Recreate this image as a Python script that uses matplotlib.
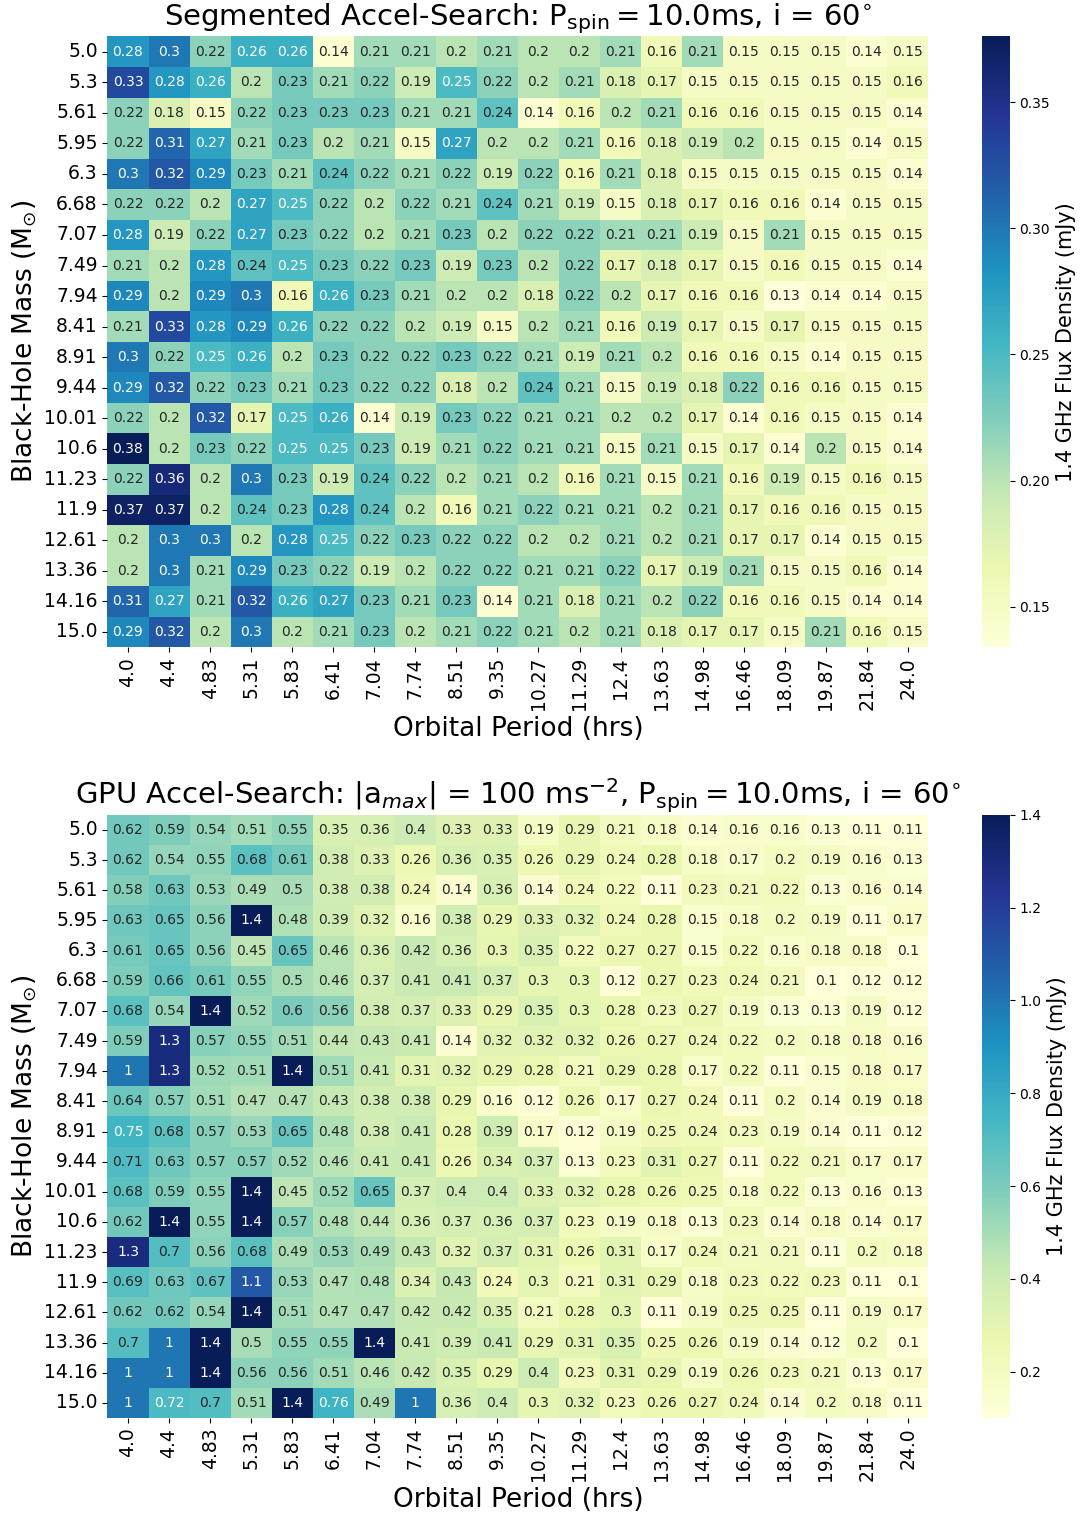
import matplotlib
matplotlib.use("Agg")
import matplotlib.pyplot as plt
import numpy as np
import seaborn as sns

# Grid axes
masses = [5.0, 5.3, 5.61, 5.95, 6.3, 6.68, 7.07, 7.49, 7.94, 8.41,
          8.91, 9.44, 10.01, 10.6, 11.23, 11.9, 12.61, 13.36, 14.16, 15.0]
periods = [4.0, 4.4, 4.83, 5.31, 5.83, 6.41, 7.04, 7.74, 8.51, 9.35,
           10.27, 11.29, 12.4, 13.63, 14.98, 16.46, 18.09, 19.87, 21.84, 24.0]

# Minimum detectable 1.4 GHz flux density (mJy), segmented acceleration search
segmented_flux = [
    [0.28, 0.3, 0.22, 0.26, 0.26, 0.14, 0.21, 0.21, 0.2, 0.21, 0.2, 0.2, 0.21, 0.16, 0.21, 0.15, 0.15, 0.15, 0.14, 0.15],
    [0.33, 0.28, 0.26, 0.2, 0.23, 0.21, 0.22, 0.19, 0.25, 0.22, 0.2, 0.21, 0.18, 0.17, 0.15, 0.15, 0.15, 0.15, 0.15, 0.16],
    [0.22, 0.18, 0.15, 0.22, 0.23, 0.23, 0.23, 0.21, 0.21, 0.24, 0.14, 0.16, 0.2, 0.21, 0.16, 0.16, 0.15, 0.15, 0.15, 0.14],
    [0.22, 0.31, 0.27, 0.21, 0.23, 0.2, 0.21, 0.15, 0.27, 0.2, 0.2, 0.21, 0.16, 0.18, 0.19, 0.2, 0.15, 0.15, 0.14, 0.15],
    [0.3, 0.32, 0.29, 0.23, 0.21, 0.24, 0.22, 0.21, 0.22, 0.19, 0.22, 0.16, 0.21, 0.18, 0.15, 0.15, 0.15, 0.15, 0.15, 0.14],
    [0.22, 0.22, 0.2, 0.27, 0.25, 0.22, 0.2, 0.22, 0.21, 0.24, 0.21, 0.19, 0.15, 0.18, 0.17, 0.16, 0.16, 0.14, 0.15, 0.15],
    [0.28, 0.19, 0.22, 0.27, 0.23, 0.22, 0.2, 0.21, 0.23, 0.2, 0.22, 0.22, 0.21, 0.21, 0.19, 0.15, 0.21, 0.15, 0.15, 0.15],
    [0.21, 0.2, 0.28, 0.24, 0.25, 0.23, 0.22, 0.23, 0.19, 0.23, 0.2, 0.22, 0.17, 0.18, 0.17, 0.15, 0.16, 0.15, 0.15, 0.14],
    [0.29, 0.2, 0.29, 0.3, 0.16, 0.26, 0.23, 0.21, 0.2, 0.2, 0.18, 0.22, 0.2, 0.17, 0.16, 0.16, 0.13, 0.14, 0.14, 0.15],
    [0.21, 0.33, 0.28, 0.29, 0.26, 0.22, 0.22, 0.2, 0.19, 0.15, 0.2, 0.21, 0.16, 0.19, 0.17, 0.15, 0.17, 0.15, 0.15, 0.15],
    [0.3, 0.22, 0.25, 0.26, 0.2, 0.23, 0.22, 0.22, 0.23, 0.22, 0.21, 0.19, 0.21, 0.2, 0.16, 0.16, 0.15, 0.14, 0.15, 0.15],
    [0.29, 0.32, 0.22, 0.23, 0.21, 0.23, 0.22, 0.22, 0.18, 0.2, 0.24, 0.21, 0.15, 0.19, 0.18, 0.22, 0.16, 0.16, 0.15, 0.15],
    [0.22, 0.2, 0.32, 0.17, 0.25, 0.26, 0.14, 0.19, 0.23, 0.22, 0.21, 0.21, 0.2, 0.2, 0.17, 0.14, 0.16, 0.15, 0.15, 0.14],
    [0.38, 0.2, 0.23, 0.22, 0.25, 0.25, 0.23, 0.19, 0.21, 0.22, 0.21, 0.21, 0.15, 0.21, 0.15, 0.17, 0.14, 0.2, 0.15, 0.14],
    [0.22, 0.36, 0.2, 0.3, 0.23, 0.19, 0.24, 0.22, 0.2, 0.21, 0.2, 0.16, 0.21, 0.15, 0.21, 0.16, 0.19, 0.15, 0.16, 0.15],
    [0.37, 0.37, 0.2, 0.24, 0.23, 0.28, 0.24, 0.2, 0.16, 0.21, 0.22, 0.21, 0.21, 0.2, 0.21, 0.17, 0.16, 0.16, 0.15, 0.15],
    [0.2, 0.3, 0.3, 0.2, 0.28, 0.25, 0.22, 0.23, 0.22, 0.22, 0.2, 0.2, 0.21, 0.2, 0.21, 0.17, 0.17, 0.14, 0.15, 0.15],
    [0.2, 0.3, 0.21, 0.29, 0.23, 0.22, 0.19, 0.2, 0.22, 0.22, 0.21, 0.21, 0.22, 0.17, 0.19, 0.21, 0.15, 0.15, 0.16, 0.14],
    [0.31, 0.27, 0.21, 0.32, 0.26, 0.27, 0.23, 0.21, 0.23, 0.14, 0.21, 0.18, 0.21, 0.2, 0.22, 0.16, 0.16, 0.15, 0.14, 0.14],
    [0.29, 0.32, 0.2, 0.3, 0.2, 0.21, 0.23, 0.2, 0.21, 0.22, 0.21, 0.2, 0.21, 0.18, 0.17, 0.17, 0.15, 0.21, 0.16, 0.15],
]

# Same grid, GPU acceleration search with |a_max| = 100 m/s^2
gpu_flux = [
    [0.62, 0.59, 0.54, 0.51, 0.55, 0.35, 0.36, 0.4, 0.33, 0.33, 0.19, 0.29, 0.21, 0.18, 0.14, 0.16, 0.16, 0.13, 0.11, 0.11],
    [0.62, 0.54, 0.55, 0.68, 0.61, 0.38, 0.33, 0.26, 0.36, 0.35, 0.26, 0.29, 0.24, 0.28, 0.18, 0.17, 0.2, 0.19, 0.16, 0.13],
    [0.58, 0.63, 0.53, 0.49, 0.5, 0.38, 0.38, 0.24, 0.14, 0.36, 0.14, 0.24, 0.22, 0.11, 0.23, 0.21, 0.22, 0.13, 0.16, 0.14],
    [0.63, 0.65, 0.56, 1.4, 0.48, 0.39, 0.32, 0.16, 0.38, 0.29, 0.33, 0.32, 0.24, 0.28, 0.15, 0.18, 0.2, 0.19, 0.11, 0.17],
    [0.61, 0.65, 0.56, 0.45, 0.65, 0.46, 0.36, 0.42, 0.36, 0.3, 0.35, 0.22, 0.27, 0.27, 0.15, 0.22, 0.16, 0.18, 0.18, 0.1],
    [0.59, 0.66, 0.61, 0.55, 0.5, 0.46, 0.37, 0.41, 0.41, 0.37, 0.3, 0.3, 0.12, 0.27, 0.23, 0.24, 0.21, 0.1, 0.12, 0.12],
    [0.68, 0.54, 1.4, 0.52, 0.6, 0.56, 0.38, 0.37, 0.33, 0.29, 0.35, 0.3, 0.28, 0.23, 0.27, 0.19, 0.13, 0.13, 0.19, 0.12],
    [0.59, 1.3, 0.57, 0.55, 0.51, 0.44, 0.43, 0.41, 0.14, 0.32, 0.32, 0.32, 0.26, 0.27, 0.24, 0.22, 0.2, 0.18, 0.18, 0.16],
    [1.0, 1.3, 0.52, 0.51, 1.4, 0.51, 0.41, 0.31, 0.32, 0.29, 0.28, 0.21, 0.29, 0.28, 0.17, 0.22, 0.11, 0.15, 0.18, 0.17],
    [0.64, 0.57, 0.51, 0.47, 0.47, 0.43, 0.38, 0.38, 0.29, 0.16, 0.12, 0.26, 0.17, 0.27, 0.24, 0.11, 0.2, 0.14, 0.19, 0.18],
    [0.75, 0.68, 0.57, 0.53, 0.65, 0.48, 0.38, 0.41, 0.28, 0.39, 0.17, 0.12, 0.19, 0.25, 0.24, 0.23, 0.19, 0.14, 0.11, 0.12],
    [0.71, 0.63, 0.57, 0.57, 0.52, 0.46, 0.41, 0.41, 0.26, 0.34, 0.37, 0.13, 0.23, 0.31, 0.27, 0.11, 0.22, 0.21, 0.17, 0.17],
    [0.68, 0.59, 0.55, 1.4, 0.45, 0.52, 0.65, 0.37, 0.4, 0.4, 0.33, 0.32, 0.28, 0.26, 0.25, 0.18, 0.22, 0.13, 0.16, 0.13],
    [0.62, 1.4, 0.55, 1.4, 0.57, 0.48, 0.44, 0.36, 0.37, 0.36, 0.37, 0.23, 0.19, 0.18, 0.13, 0.23, 0.14, 0.18, 0.14, 0.17],
    [1.3, 0.7, 0.56, 0.68, 0.49, 0.53, 0.49, 0.43, 0.32, 0.37, 0.31, 0.26, 0.31, 0.17, 0.24, 0.21, 0.21, 0.11, 0.2, 0.18],
    [0.69, 0.63, 0.67, 1.1, 0.53, 0.47, 0.48, 0.34, 0.43, 0.24, 0.3, 0.21, 0.31, 0.29, 0.18, 0.23, 0.22, 0.23, 0.11, 0.1],
    [0.62, 0.62, 0.54, 1.4, 0.51, 0.47, 0.47, 0.42, 0.42, 0.35, 0.21, 0.28, 0.3, 0.11, 0.19, 0.25, 0.25, 0.11, 0.19, 0.17],
    [0.7, 1.0, 1.4, 0.5, 0.55, 0.55, 1.4, 0.41, 0.39, 0.41, 0.29, 0.31, 0.35, 0.25, 0.26, 0.19, 0.14, 0.12, 0.2, 0.1],
    [1.0, 1.0, 1.4, 0.56, 0.56, 0.51, 0.46, 0.42, 0.35, 0.29, 0.4, 0.23, 0.31, 0.29, 0.19, 0.26, 0.23, 0.21, 0.13, 0.17],
    [1.0, 0.72, 0.7, 0.51, 1.4, 0.76, 0.49, 1.0, 0.36, 0.4, 0.3, 0.32, 0.23, 0.26, 0.27, 0.24, 0.14, 0.2, 0.18, 0.11],
]

seg_title = (r"Segmented Accel-Search: $\mathrm{P_{spin} = 10.0ms}$, "
             r"i = 60$^{\circ}$")
gpu_title = (r"GPU Accel-Search: $|\mathrm{a}_{max}|$ = 100 ms$^{-2}$, "
             r"$\mathrm{P_{spin} = 10.0ms}$, i = 60$^{\circ}$")

fig = plt.figure(figsize=(10.8, 15.13), dpi=100)

panels = [
    (segmented_flux, seg_title, [0.0995, 0.5722, 0.7602, 0.4037],
     [0.909, 0.5722, 0.026, 0.4037], dict(vmin=0.134, vmax=0.376)),
    (gpu_flux, gpu_title, [0.0995, 0.0628, 0.7602, 0.3986],
     [0.909, 0.0628, 0.026, 0.3986], dict(vmin=0.1, vmax=1.4)),
]

for flux, title, ax_rect, cb_rect, lims in panels:
    ax = fig.add_axes(ax_rect)
    cax = fig.add_axes(cb_rect)
    sns.heatmap(np.array(flux), ax=ax, cbar_ax=cax, cmap="YlGnBu",
                annot=True, fmt=".2g", annot_kws={"fontsize": 10},
                xticklabels=periods, yticklabels=masses, **lims,
                cbar_kws={"label": "1.4 GHz Flux Density (mJy)"})
    ax.set_title(title, fontsize=21, pad=4)
    ax.set_xlabel("Orbital Period (hrs)", fontsize=19)
    ax.set_ylabel(r"Black-Hole Mass (M$_{\odot}$)", fontsize=19)
    ax.tick_params(axis="x", labelsize=13.5, rotation=90)
    ax.tick_params(axis="y", labelsize=13.5, rotation=0)
    cax.tick_params(labelsize=10)
    cax.yaxis.label.set_size(15)

fig.savefig("out.png", dpi=100)
